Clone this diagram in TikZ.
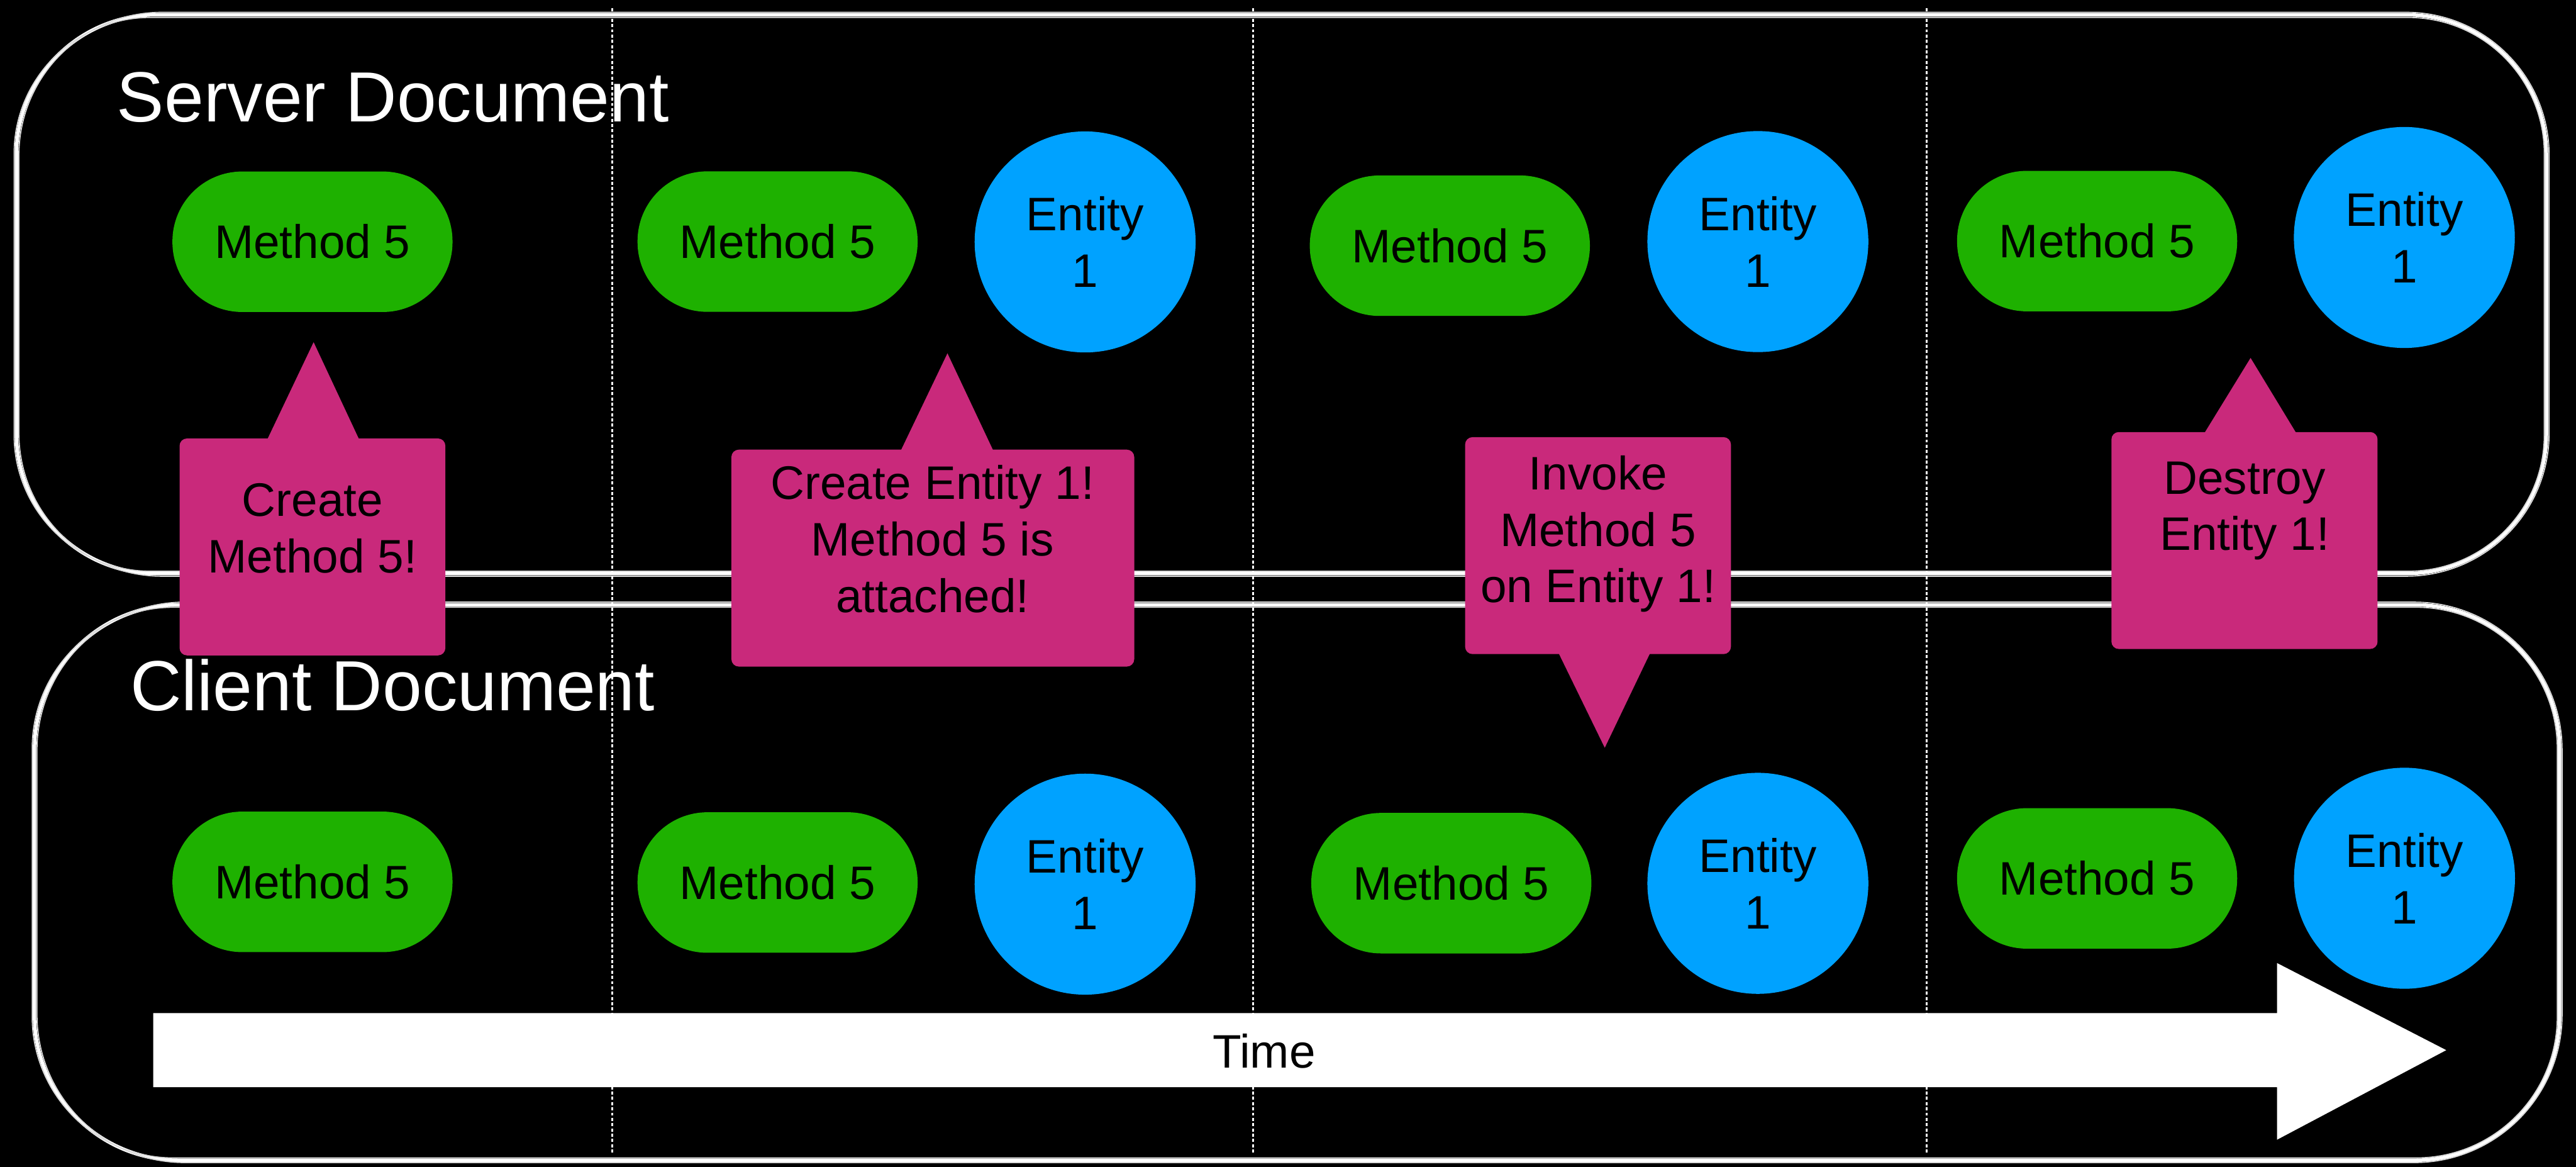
\documentclass[tikz,border=0pt]{standalone}
\usepackage{fontspec}
\setmainfont{Liberation Sans}
\usetikzlibrary{calc}

\definecolor{methodgreen}{HTML}{1EB100}
\definecolor{entityblue}{HTML}{00A2FF}
\definecolor{notepink}{HTML}{C9297B}

\newcommand{\diagfont}{\fontsize{28.6pt}{34.4pt}\selectfont}
\newcommand{\docfont}{\fontsize{43.2pt}{52pt}\selectfont}
\newcommand{\firstline}{\rule{0pt}{25pt}}

\tikzset{
  method/.style={rectangle, fill=methodgreen, rounded corners=42.5pt,
    minimum width=170.5pt, minimum height=85.5pt, inner sep=0pt,
    font=\diagfont, text=black},
  entity/.style={circle, fill=entityblue, minimum size=134.5pt, inner sep=0pt,
    align=center, font=\diagfont, text=black},
  notebox/.style={rectangle, fill=notepink, rounded corners=4.5pt,
    inner sep=0pt, minimum height=132pt},
  notetext/.style={anchor=north, inner sep=0pt, align=center,
    font=\diagfont, text=black},
  doctitle/.style={anchor=base west, inner sep=0pt, font=\docfont, text=white},
  frame/.style={draw=white, line width=2.1pt},
  strand/.style={draw=white!85!black, line width=0.7pt},
  divider/.style={draw=white, line width=1.1pt, dash pattern=on 1.9pt off 1.3pt},
}

\begin{document}
\begin{tikzpicture}[x=1pt,y=-1pt]
\useasboundingbox (0,0) rectangle (1568,710);
\fill[black] (0,0) rectangle (1568,710);

% hand-drawn document frames: one main stroke and two loose strands
\draw[frame, rounded corners=85pt] (10,9) rectangle (1550,349);
\draw[strand, rounded corners=87pt] (11.5,7.5) rectangle (1551.6,350.6);
\draw[strand, rounded corners=83pt] (8.6,10.6) rectangle (1548.7,347.6);

\draw[frame, rounded corners=88pt] (21,368) rectangle (1558,706);
\draw[strand, rounded corners=90pt] (22.5,366.4) rectangle (1559.5,707.4);
\draw[strand, rounded corners=86pt] (19.6,369.5) rectangle (1556.6,704.6);

% time step separators
\draw[divider] (372.6,5) -- (372.6,702);
\draw[divider] (762.7,5) -- (762.7,702);
\draw[divider] (1172.6,5) -- (1172.6,702);

% document titles
\node[doctitle] (server) at (71,74.2) {Server Document};
\node[doctitle] (client) at (79.1,432.4) {Client Document};

% server state
\node[method] (sm1) at (190.2,147.1) {Method 5};
\node[method] (sm2) at (473.3,147) {Method 5};
\node[entity] (se2) at (660.5,147.2) {Entity\\1};
\node[method] (sm3) at (882.5,149.5) {Method 5};
\node[entity] (se3) at (1070,147) {Entity\\1};
\node[method] (sm4) at (1276.5,146.7) {Method 5};
\node[entity] (se4) at (1463.5,144.5) {Entity\\1};

% client state
\node[method] (cm1) at (190.2,536.6) {Method 5};
\node[method] (cm2) at (473.3,537) {Method 5};
\node[entity] (ce2) at (660.5,538) {Entity\\1};
\node[method] (cm3) at (883.4,537.4) {Method 5};
\node[entity] (ce3) at (1070,537.5) {Entity\\1};
\node[method] (cm4) at (1276.5,534.5) {Method 5};
\node[entity] (ce4) at (1463.6,534.4) {Entity\\1};

% messages
\node[notebox, minimum width=161.8pt] (n1) at (190.2,332.8) {};
\coordinate (n1tip) at (190.9,208.2);
\fill[notepink] ($(n1.north west)+(53.5,1)$) -- (n1tip) -- ($(n1.north west)+(109.6,1)$) -- cycle;
\node[notetext] (n1text) at (190.2,288.9) {\firstline Create\\Method 5!};

\node[notebox, minimum width=245.2pt] (n2) at (567.8,339.6) {};
\coordinate (n2tip) at (576.7,215);
\fill[notepink] ($(n2.north west)+(103.2,1)$) -- (n2tip) -- ($(n2.north west)+(159.7,1)$) -- cycle;
\node[notetext] (n2text) at (567.6,278.7) {\firstline Create Entity 1!\\Method 5 is\\attached!};

\node[notebox, minimum width=161.8pt] (n3) at (972.7,332) {};
\coordinate (n3tip) at (976.8,455);
\fill[notepink] ($(n3.south west)+(57,-1)$) -- (n3tip) -- ($(n3.south west)+(112.9,-1)$) -- cycle;
\node[notetext] (n3text) at (972.7,272.7) {\firstline Invoke\\Method 5\\on Entity 1!};

\node[notebox, minimum width=162pt] (n4) at (1366.2,328.9) {};
\coordinate (n4tip) at (1369.9,217.8);
\fill[notepink] ($(n4.north west)+(56.7,1)$) -- (n4tip) -- ($(n4.north west)+(112.8,1)$) -- cycle;
\node[notetext] (n4text) at (1366.3,275.3) {\firstline Destroy\\Entity 1!};

% time arrow
\fill[white] (93.3,616.5) -- (1386,616.5) -- (1386,586) -- (1489,639)
  -- (1386,693.5) -- (1386,661.5) -- (93.3,661.5) -- cycle;
\node[anchor=base, inner sep=0pt, font=\diagfont, text=black] (time) at (769.5,650) {Time};
\end{tikzpicture}
\end{document}
